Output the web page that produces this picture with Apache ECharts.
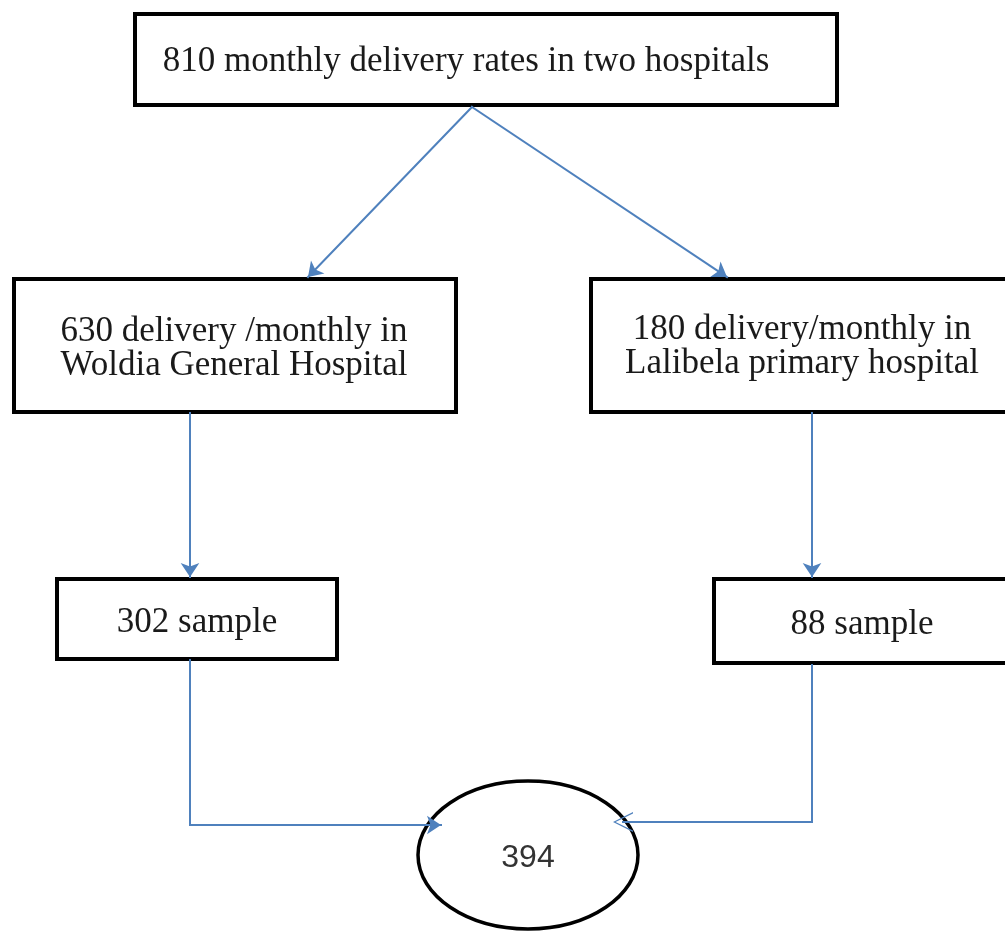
<!DOCTYPE html>
<html><head><meta charset="utf-8">
<script src="https://cdn.jsdelivr.net/npm/echarts@6/dist/echarts.min.js"></script>
<style>html,body{margin:0;padding:0;background:#fff}#c{width:1005px;height:931px}</style>
</head><body><div id="c"></div>
<script>
// ---- content ----
const boxLabels = [
  '810 monthly delivery rates in two hospitals',
  '630 delivery /monthly in\nWoldia General Hospital',
  '180 delivery/monthly in\nLalibela primary hospital',
  '302 sample',
  '88 sample'
];
const totalLabel = '394';

// ---- diagram layout (canvas units) ----
const boxLeft   = [135, 14, 591, 57, 714];
const boxTop    = [14, 279, 279, 579, 579];
const boxRight  = [837, 456, 1018, 337, 1016];
const boxBottom = [105, 412, 412, 659, 663];
const textX     = [466, 234, 802, 197, 862];
const textY     = [62, 349, 347, 623, 625];
const ellipseCenter = [528, 855];
const ellipseRadius = [110, 74];
const arrowPaths = [
  [[472, 107], [308, 277]],
  [[472, 107], [727, 277]],
  [[190, 413], [190, 577]],
  [[812, 413], [812, 577]],
  [[190, 660], [190, 825], [441, 825]]
];
const openArrowPaths = [
  [[812, 665], [812, 822], [623, 822]]
];

// split paths into plain leading segments and a final arrowed segment
function leadSegments(paths) {
  const out = [];
  paths.forEach(p => { for (let k = 0; k < p.length - 2; k++) out.push({coords: [p[k], p[k + 1]]}); });
  return out;
}
function lastSegments(paths) {
  return paths.map(p => ({coords: [p[p.length - 2], p[p.length - 1]]}));
}

const boxData = boxLabels.map((t, i) => [boxLeft[i], boxTop[i], boxRight[i], boxBottom[i], textX[i], textY[i]]);
const SERIF = '"Liberation Serif", "Times New Roman", serif';
const BLUE = '#4f81bd';
const lineStyle = {color: BLUE, width: 2, opacity: 1, curveness: 0, cap: 'square'};

const chart = echarts.init(document.getElementById('c'), null, {renderer: 'canvas'});
chart.setOption({
  animation: false,
  backgroundColor: '#ffffff',
  grid: {left: 0, right: 0, top: 0, bottom: 0},
  xAxis: {type: 'value', min: 0, max: 1005, show: false},
  yAxis: {type: 'value', min: 0, max: 931, inverse: true, show: false},
  series: [
    {
      type: 'lines', coordinateSystem: 'cartesian2d', z: 3,
      symbol: ['none', 'none'],
      lineStyle: lineStyle,
      data: leadSegments(arrowPaths.concat(openArrowPaths))
    },
    {
      type: 'lines', coordinateSystem: 'cartesian2d', z: 3,
      symbol: ['none', 'arrow'], symbolSize: 14,
      lineStyle: lineStyle,
      data: lastSegments(arrowPaths)
    },
    {
      type: 'lines', coordinateSystem: 'cartesian2d', z: 3,
      symbol: ['none', 'path://M0,20 L11,0 L22,20 L20.4,20 L11,2.6 L1.6,20 Z'], symbolSize: [22, 20],
      lineStyle: lineStyle,
      data: lastSegments(openArrowPaths)
    },
    {
      type: 'custom', coordinateSystem: 'cartesian2d', z: 2,
      data: boxData,
      renderItem: function (params, api) {
        const i = params.dataIndex;
        const p0 = api.coord([api.value(0), api.value(1)]);
        const p1 = api.coord([api.value(2), api.value(3)]);
        const t = api.coord([api.value(4), api.value(5)]);
        return {
          type: 'group',
          children: [
            {type: 'rect', shape: {x: p0[0], y: p0[1], width: p1[0] - p0[0], height: p1[1] - p0[1]},
             style: {fill: '#ffffff', stroke: '#000000', lineWidth: 4}},
            {type: 'text', style: {x: t[0], y: t[1], text: boxLabels[i], align: 'center', verticalAlign: 'middle',
              font: '35px ' + SERIF, lineHeight: 34, fill: '#1a1a1a'}}
          ]
        };
      }
    },
    {
      type: 'custom', coordinateSystem: 'cartesian2d', z: 2,
      data: [[ellipseCenter[0], ellipseCenter[1]]],
      renderItem: function (params, api) {
        const c = api.coord([api.value(0), api.value(1)]);
        const e = api.coord([api.value(0) + ellipseRadius[0], api.value(1) + ellipseRadius[1]]);
        return {
          type: 'group',
          children: [
            {type: 'ellipse', shape: {cx: c[0], cy: c[1], rx: e[0] - c[0], ry: e[1] - c[1]},
             style: {fill: '#ffffff', stroke: '#000000', lineWidth: 3.5}},
            {type: 'text', style: {x: c[0], y: c[1] + 3, text: totalLabel, align: 'center', verticalAlign: 'middle',
              font: '32px "Liberation Sans Narrow", "Liberation Sans", sans-serif', fill: '#333333'}}
          ]
        };
      }
    }
  ]
});
</script>
</body></html>
